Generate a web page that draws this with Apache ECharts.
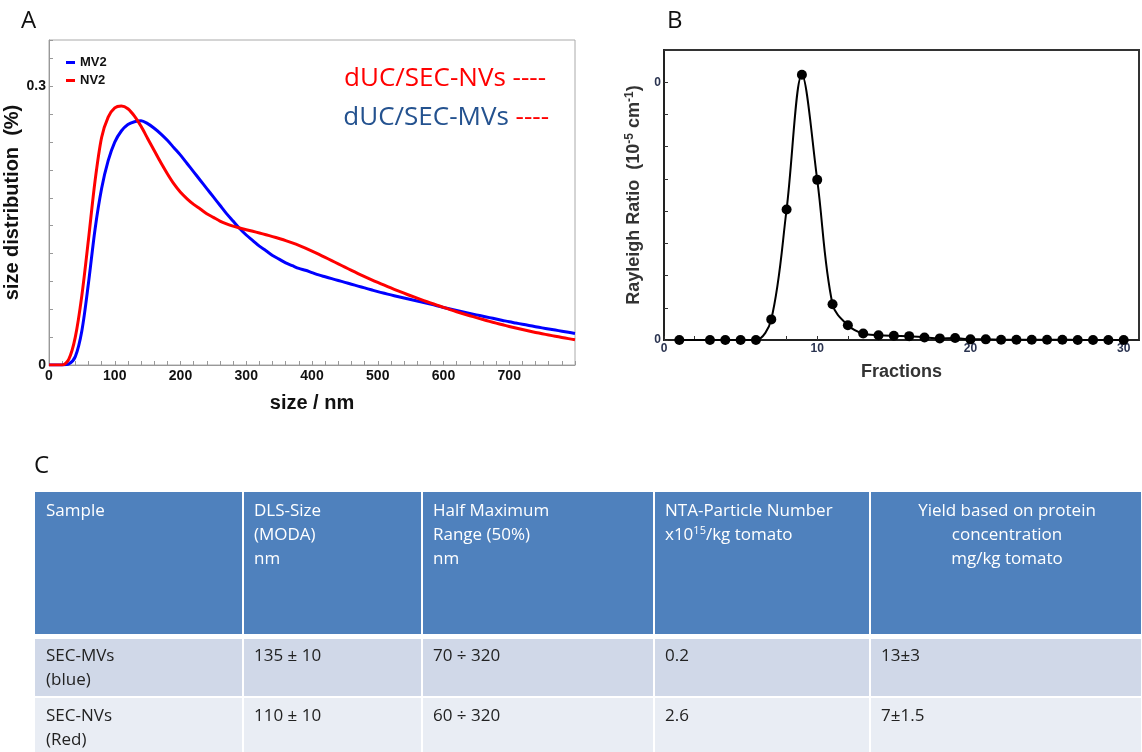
<!DOCTYPE html>
<html>
<head>
<meta charset="utf-8">
<script src="https://cdn.jsdelivr.net/npm/echarts@6/dist/echarts.min.js"></script>
<style>
  html, body { margin: 0; padding: 0; background: #fff; }
  #fig { width: 1142px; height: 752px; }
</style>
</head>
<body>
<div id="fig"></div>
<script>
// panel A - size distribution (DLS), read every 10 nm from 0 to 800
var sizeNm = [];
for (var s = 0; s <= 800; s += 10) sizeNm.push(s);
var mv2 = [0, 0, 0, 0.001, 0.009, 0.037, 0.088, 0.146, 0.19, 0.22,
    0.24, 0.252, 0.259, 0.262, 0.263, 0.26, 0.255, 0.249, 0.242, 0.234,
    0.226, 0.217, 0.208, 0.199, 0.19, 0.181, 0.172, 0.163, 0.155, 0.147,
    0.14, 0.134, 0.128, 0.123, 0.118, 0.114, 0.11, 0.107, 0.104, 0.102,
    0.0995, 0.097, 0.095, 0.093, 0.091, 0.089, 0.087, 0.085, 0.083, 0.081,
    0.079, 0.0772, 0.0755, 0.0738, 0.0722, 0.0706, 0.069, 0.0673, 0.0656, 0.0638,
    0.062, 0.0603, 0.0587, 0.0571, 0.0555, 0.054, 0.0525, 0.051, 0.0495, 0.048,
    0.0465, 0.0452, 0.0439, 0.0426, 0.0413, 0.04, 0.0388, 0.0376, 0.0364, 0.0352, 0.034];
var nv2 = [0, 0, 0, 0.006, 0.03, 0.075, 0.135, 0.198, 0.245, 0.267,
    0.277, 0.279, 0.276, 0.268, 0.257, 0.244, 0.231, 0.218, 0.206, 0.195,
    0.186, 0.179, 0.173, 0.168, 0.163, 0.159, 0.155, 0.152, 0.1495, 0.1475,
    0.1457, 0.144, 0.1422, 0.1403, 0.1383, 0.1362, 0.134, 0.1315, 0.1288, 0.1258,
    0.1226, 0.1193, 0.1159, 0.1124, 0.1089, 0.1054, 0.1019, 0.0985, 0.0952, 0.092,
    0.0889, 0.0859, 0.083, 0.0801, 0.0773, 0.0746, 0.072, 0.0694, 0.0669, 0.0645,
    0.0621, 0.0597, 0.0574, 0.0552, 0.0531, 0.051, 0.049, 0.047, 0.0451, 0.0433,
    0.0415, 0.0398, 0.0382, 0.0366, 0.0351, 0.0337, 0.0323, 0.031, 0.0297, 0.0284, 0.0272];

// panel B - SEC fractions
var fractions = [1, 3, 4, 5, 6, 7, 8, 9, 10, 11, 12, 13, 14, 15, 16, 17, 18, 19, 20, 21, 22, 23, 24, 25, 26, 27, 28, 29, 30];
var rayleigh = [0, 0, 0, 0, 0, 0.64, 4.05, 8.23, 4.97, 1.11, 0.46, 0.2, 0.15, 0.13, 0.12, 0.08, 0.05, 0.06, 0.02, 0.02, 0.01, 0.01, 0.01, 0.01, 0.01, 0, 0, 0, 0];

// panel C - table
var tableHead = [
    ['Sample'],
    ['DLS-Size', '(MODA)', 'nm'],
    ['Half Maximum', 'Range (50%)', 'nm'],
    ['NTA-Particle Number', 'x10{sup|15}/kg tomato'],
    ['Yield based on protein', 'concentration', 'mg/kg tomato']
];
var rowMVs = [['SEC-MVs', '(blue)'], ['135 ± 10'], ['70 ÷ 320'], ['0.2'], ['13±3']];
var rowNVs = [['SEC-NVs', '(Red)'], ['110 ± 10'], ['60 ÷ 320'], ['2.6'], ['7±1.5']];

var FONT = '"Liberation Sans", Arial, sans-serif';
var SOFT = '"Open Sans", "Noto Sans", sans-serif';

function zip(xs, ys) {
    var out = [];
    for (var i = 0; i < xs.length; i++) out.push([xs[i], ys[i]]);
    return out;
}

// table geometry
var colX = [35, 243, 422, 654, 870, 1142];
var rowY = [492, 634, 639, 696, 698, 752];

function buildTable() {
    var els = [];
    var fills = ['#4F81BD', '#D0D8E8', '#E9EDF4'];
    var tops = [rowY[0], rowY[2], rowY[4]];
    var bots = [rowY[1], rowY[3], rowY[5]];
    var rows = [tableHead, rowMVs, rowNVs];
    var textTop = [511, 656, 716];
    for (var r = 0; r < 3; r++) {
        for (var c = 0; c < 5; c++) {
            var x0 = colX[c] + (c > 0 ? 1 : 0);
            var x1 = colX[c + 1] - 1;
            els.push({
                type: 'rect',
                shape: { x: x0, y: tops[r], width: x1 - x0, height: bots[r] - tops[r] },
                style: { fill: fills[r] },
                silent: true
            });
            var lines = rows[r][c];
            var centred = (r === 0 && c === 4);
            for (var k = 0; k < lines.length; k++) {
                els.push({
                    type: 'text',
                    style: {
                        text: lines[k],
                        x: centred ? (colX[c] + colX[c + 1]) / 2 + 1 : colX[c] + 11,
                        y: textTop[r] + k * 24,
                        align: centred ? 'center' : 'left',
                        verticalAlign: 'middle',
                        font: '17px ' + SOFT,
                        fill: r === 0 ? '#fff' : '#222',
                        rich: {
                            sup: { fontSize: 11, fill: '#fff', verticalAlign: 'bottom', padding: [0, 0, 9, 0], fontFamily: SOFT }
                        }
                    },
                    silent: true
                });
            }
        }
    }
    return els;
}

var chart = echarts.init(document.getElementById('fig'), null, { renderer: 'canvas' });

var option = {
    backgroundColor: '#fff',
    animation: false,
    grid: [
        { left: 49, top: 40, width: 526, height: 325, show: true, borderColor: '#aaa', borderWidth: 1 },
        { left: 664, top: 50, width: 477, height: 290, show: true, borderColor: '#333', borderWidth: 2 }
    ],
    legend: {
        left: 61, top: 51, orient: 'vertical', itemGap: 5,
        itemWidth: 9, itemHeight: 3, icon: 'rect',
        textStyle: { fontFamily: FONT, fontWeight: 'bold', fontSize: 13, color: '#111' },
        data: ['MV2', 'NV2']
    },
    xAxis: [
        {
            gridIndex: 0, type: 'value', min: 0, max: 800, interval: 20,
            name: 'size / nm', nameLocation: 'middle', nameGap: 28,
            nameTextStyle: { fontFamily: FONT, fontWeight: 'bold', fontSize: 20, color: '#111' },
            axisLine: { lineStyle: { color: '#999' } },
            axisTick: { inside: true, length: 4, lineStyle: { color: '#999' } },
            splitLine: { show: false },
            axisLabel: {
                margin: 4, fontFamily: FONT, fontWeight: 'bold', fontSize: 14, color: '#111',
                formatter: function (v) { return (v % 100 === 0 && v < 800) ? String(v) : ''; }
            }
        },
        {
            gridIndex: 1, type: 'value', min: 0, max: 31, interval: 2,
            name: 'Fractions', nameLocation: 'middle', nameGap: 23,
            nameTextStyle: { fontFamily: FONT, fontWeight: 'bold', fontSize: 18, color: '#333' },
            axisLine: { lineStyle: { color: '#222', width: 2 } },
            axisTick: { inside: true, length: 4, lineStyle: { color: '#333' } },
            splitLine: { show: false },
            axisLabel: {
                margin: 3, fontFamily: FONT, fontWeight: 'bold', fontSize: 12, color: '#2a3350',
                formatter: function (v) { return (v % 10 === 0) ? String(v) : ''; }
            }
        }
    ],
    yAxis: [
        {
            gridIndex: 0, type: 'value', min: 0, max: 0.35, interval: 0.03,
            name: 'size distribution  (%)', nameLocation: 'middle', nameGap: 24,
            nameTextStyle: { fontFamily: FONT, fontWeight: 'bold', fontSize: 20, color: '#111' },
            axisLine: { lineStyle: { color: '#999' } },
            axisTick: { inside: true, length: 4, lineStyle: { color: '#999' } },
            splitLine: { show: false },
            axisLabel: {
                margin: 3, fontFamily: FONT, fontWeight: 'bold', fontSize: 14, color: '#111',
                formatter: function (v) {
                    if (v === 0) return '0';
                    if (Math.abs(v - 0.3) < 1e-6) return '0.3';
                    return '';
                }
            }
        },
        {
            gridIndex: 1, type: 'value', min: 0, max: 9, interval: 1,
            name: '{a|Rayleigh Ratio  (10}{s|-5}{a| cm}{s|-1}{a|)}', nameLocation: 'middle', nameGap: 20,
            nameTextStyle: {
                rich: {
                    a: { fontFamily: FONT, fontWeight: 'bold', fontSize: 18, color: '#333' },
                    s: { fontFamily: FONT, fontWeight: 'bold', fontSize: 12, color: '#333', verticalAlign: 'bottom', padding: [0, 0, 8, 0] }
                }
            },
            axisLine: { lineStyle: { color: '#222', width: 2 } },
            axisTick: { inside: true, length: 4, lineStyle: { color: '#333' } },
            splitLine: { show: false },
            axisLabel: {
                margin: 3, fontFamily: FONT, fontWeight: 'bold', fontSize: 12, color: '#2a3350',
                formatter: function (v) { return (v === 0 || v === 8) ? '0' : ''; }
            }
        }
    ],
    series: [
        {
            name: 'MV2', type: 'line', xAxisIndex: 0, yAxisIndex: 0,
            data: zip(sizeNm, mv2), smooth: 0.3, showSymbol: false,
            lineStyle: { color: '#0000ff', width: 3, join: 'round' }, itemStyle: { color: '#0000ff' }, z: 3
        },
        {
            name: 'NV2', type: 'line', xAxisIndex: 0, yAxisIndex: 0,
            data: zip(sizeNm, nv2), smooth: 0.3, showSymbol: false,
            lineStyle: { color: '#ff0000', width: 3, join: 'round' }, itemStyle: { color: '#ff0000' }, z: 4
        },
        {
            name: 'SEC', type: 'line', xAxisIndex: 1, yAxisIndex: 1,
            data: zip(fractions, rayleigh), smooth: 0.35, symbol: 'circle', symbolSize: 10,
            lineStyle: { color: '#000', width: 2 }, itemStyle: { color: '#000' }
        }
    ],
    graphic: [
        { type: 'text', style: { text: 'A', x: 21, y: 9, font: '24px ' + SOFT, fill: '#111' } },
        { type: 'text', style: { text: 'B', x: 667, y: 9, font: '24px ' + SOFT, fill: '#111' } },
        { type: 'text', style: { text: 'C', x: 34, y: 454, font: '24px ' + SOFT, fill: '#111' } },
        {
            type: 'text',
            style: {
                text: '{r|dUC/SEC-NVs ----}', x: 546, y: 79, align: 'right', verticalAlign: 'middle',
                rich: { r: { fontFamily: SOFT, fontSize: 26, fill: '#ff0000' } }
            }
        },
        {
            type: 'text',
            style: {
                text: '{b|dUC/SEC-MVs }{r|----}', x: 549, y: 118, align: 'right', verticalAlign: 'middle',
                rich: {
                    b: { fontFamily: SOFT, fontSize: 26, fill: '#24528f' },
                    r: { fontFamily: SOFT, fontSize: 26, fill: '#ff0000' }
                }
            }
        }
    ].concat(buildTable())
};

chart.setOption(option);
</script>
</body>
</html>
